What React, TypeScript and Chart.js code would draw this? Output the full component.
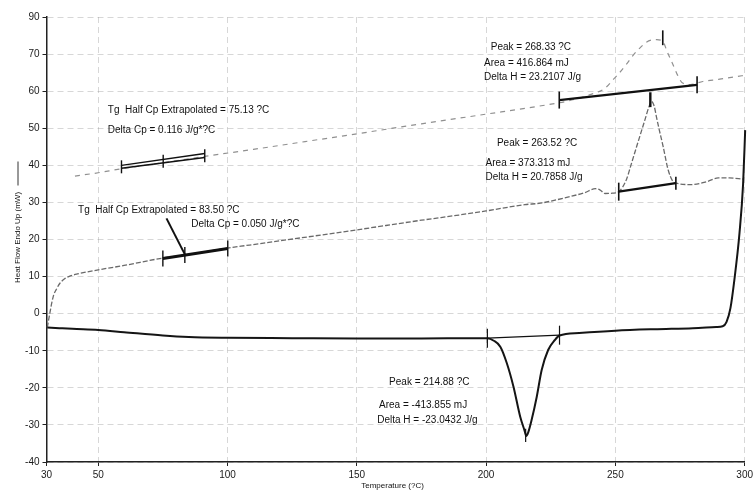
import { useEffect, useRef } from "react";
import { Chart, registerables } from "chart.js";

Chart.register(...registerables);

const FONT = "'Liberation Sans', Arial, sans-serif";

// ---- axes ----
const xTickValues = [30, 50, 100, 150, 200, 250, 300];
const yTickValues = [-40, -30, -20, -10, 0, 10, 20, 30, 40, 50, 60, 70, 80];
const yTickLabels = ["-40", "-30", "-20", "-10", "0", "10", "20", "30", "40", "50", "60", "70", "90"];
const xTitle = "Temperature (?C)";
const yTitle = "Heat Flow Endo Up (mW)";

// ---- solid curve ----
const solidTemps = [30.3, 35, 40, 50, 60, 75, 85, 100, 125, 150, 175, 195, 200.5, 203, 205.5, 208, 210.6, 213.2, 215, 215.5, 216.3, 217.6, 219.6, 221.5, 224, 226.6, 228.4, 236, 250, 265, 280, 289, 291.5, 293, 294.5, 296, 298, 299.4, 300.2];
const solidValues = [-3.7, -3.9, -4.1, -4.4, -5.0, -5.9, -6.3, -6.5, -6.6, -6.7, -6.7, -6.6, -6.6, -7.3, -8.9, -13.3, -19.7, -27.8, -31.8, -33.0, -32.0, -28.7, -22.4, -15.2, -9.8, -7.1, -5.9, -5.2, -4.6, -4.2, -3.9, -3.6, -3.4, -2.2, 1.5, 9, 21.7, 35, 49.5];

// ---- middle (dotted) curve ----
const midTemps = [30.3, 32.6, 34, 35.2, 37, 38.6, 42, 50, 60, 75, 83.5, 100, 108.5, 131, 150, 175, 189.5, 200, 215, 221, 232, 238, 242.3, 244, 246, 248.9, 251.3, 254.3, 256, 258.2, 261.4, 263, 264, 265, 265.9, 267, 268.5, 270.4, 272.3, 273.5, 279, 285.4, 289.8, 294, 299.5];
const midValues = [-3.7, 4.6, 6.8, 8.2, 9.4, 10.0, 10.7, 11.8, 13.0, 15.0, 15.8, 17.7, 18.5, 20.7, 22.6, 25.2, 26.6, 27.7, 29.4, 29.8, 31.5, 32.6, 33.7, 33.4, 32.4, 32.5, 32.9, 36.2, 40, 45, 52.2, 55.8, 57.2, 56, 53, 49.5, 45, 38.8, 35.6, 35.2, 34.8, 35.6, 36.6, 36.6, 36.3];

// ---- top (dashed) curve ----
const topTemps = [41, 50, 58.4, 75, 91, 110, 130, 150, 175, 200, 223.4, 232, 240, 246, 249, 251, 254, 257, 260, 262, 264, 266, 268.3, 270, 272, 274, 276, 279, 283.8, 290, 296.7, 300];
const topValues = [37.1, 38.0, 39.0, 40.7, 42.4, 44.3, 46.4, 48.5, 51.2, 53.8, 56.3, 57.4, 59.0, 60.8, 63.0, 64.5, 67.0, 69.8, 72.0, 73.2, 73.8, 73.9, 73.5, 70.7, 67.6, 64.4, 62.2, 61.8, 62.6, 63.2, 63.9, 64.3];

// ---- analysis marks (temperature, value) ----
const tgTopUpper = [[59.0, 40.0], [91.2, 43.2]];
const tgTopLower = [[59.0, 39.2], [91.2, 42.1]];
const tgTopTicks = [[59.0, 39.6], [75.13, 41.1], [91.2, 42.6]];
const tgMidLine = [[75.0, 14.9], [100.1, 17.6]];
const tgMidTicks = [[75.0, 14.9], [83.5, 15.8], [100.1, 17.6]];
const tgMidArrow = [[76.4, 25.7], [83.5, 16.0]];
const topPeakBase = [[228.3, 57.6], [281.6, 61.7]];
const topPeakMarker = [[268.33, 76.4], [268.33, 72.4]];
const midPeakMarker = [[263.52, 59.7], [263.52, 55.7]];
const midPeakBase = [[251.3, 32.9], [273.4, 35.2]];
const botBase = [[200.5, -6.6], [228.4, -5.8]];
const botPeakMarker = [[215.3, -31.0], [215.3, -34.6]];

// ---- annotation texts and anchors (temperature, value) ----
const noteTexts = [
  "Tg  Half Cp Extrapolated = 75.13 ?C",
  "Delta Cp = 0.116 J/g*?C",
  "Tg  Half Cp Extrapolated = 83.50 ?C",
  "Delta Cp = 0.050 J/g*?C",
  "Peak = 268.33 ?C",
  "Area = 416.864 mJ",
  "Delta H = 23.2107 J/g",
  "Peak = 263.52 ?C",
  "Area = 373.313 mJ",
  "Delta H = 20.7858 J/g",
  "Peak = 214.88 ?C",
  "Area = -413.855 mJ",
  "Delta H = -23.0432 J/g",
];
const noteAnchors = [
  [53.7, 54.9],
  [53.7, 49.5],
  [42.2, 27.9],
  [86.0, 24.1],
  [201.8, 71.9],
  [199.2, 67.4],
  [199.2, 63.7],
  [204.2, 45.9],
  [199.8, 40.5],
  [199.8, 36.9],
  [162.5, -18.4],
  [158.6, -24.6],
  [157.9, -28.7],
];

const zip = (a: number[], b: number[]) => a.map((v, i) => ({ x: v, y: b[i] }));

const marksPlugin = {
  id: "dscMarks",
  afterDatasetsDraw(chart: any) {
    const { ctx, chartArea } = chart;
    const sx = chart.scales.x;
    const sy = chart.scales.y;
    const P = (p: number[]) => [sx.getPixelForValue(p[0]), sy.getPixelForValue(p[1])];
    ctx.save();
    ctx.lineCap = "butt";
    const seg = (pts: number[][], w: number, color = "#111") => {
      ctx.beginPath();
      ctx.lineWidth = w;
      ctx.strokeStyle = color;
      ctx.setLineDash([]);
      pts.forEach((p, i) => {
        const [a, b] = P(p);
        if (i === 0) ctx.moveTo(a, b);
        else ctx.lineTo(a, b);
      });
      ctx.stroke();
    };
    const ticks = (pts: number[][], half: number, w: number) => {
      pts.forEach((p) => {
        const [a, b] = P(p);
        ctx.beginPath();
        ctx.lineWidth = w;
        ctx.strokeStyle = "#111";
        ctx.moveTo(a, b - half);
        ctx.lineTo(a, b + half);
        ctx.stroke();
      });
    };
    seg(tgTopUpper, 1.4);
    seg(tgTopLower, 1.4);
    ticks(tgTopTicks, 6.5, 1.4);
    seg(tgMidLine, 3);
    ticks(tgMidTicks, 8, 1.4);
    seg(tgMidArrow, 2);
    seg(topPeakBase, 2.2);
    ticks([topPeakBase[0], topPeakBase[1]], 8.5, 1.6);
    seg(topPeakMarker, 1.6);
    seg(midPeakMarker, 2.4);
    seg(midPeakBase, 2.4);
    ticks([midPeakBase[0]], 9, 1.6);
    ticks([midPeakBase[1]], 6.5, 1.6);
    seg(botBase, 1.4);
    ticks([botBase[0], botBase[1]], 9.5, 1.2);
    seg(botPeakMarker, 1.2);

    ctx.fillStyle = "#111";
    ctx.font = `10px ${FONT}`;
    ctx.textBaseline = "middle";
    ctx.textAlign = "left";
    noteTexts.forEach((t, i) => {
      const [a, b] = P(noteAnchors[i]);
      ctx.fillText(t, a, b);
    });

    // axis titles
    ctx.font = `8px ${FONT}`;
    ctx.textAlign = "center";
    ctx.fillText(xTitle, (chartArea.left + chartArea.right) / 2 - 3, 486);
    const midY = (chartArea.top + chartArea.bottom) / 2;
    ctx.save();
    ctx.translate(18, midY - 2);
    ctx.rotate(-Math.PI / 2);
    ctx.fillText(yTitle, 0, 0);
    ctx.restore();
    ctx.beginPath();
    ctx.lineWidth = 1;
    ctx.strokeStyle = "#333";
    ctx.moveTo(18, midY - 54);
    ctx.lineTo(18, midY - 78);
    ctx.stroke();
    ctx.restore();
  },
};

export default function App() {
  const ref = useRef<HTMLCanvasElement | null>(null);
  useEffect(() => {
    if (!ref.current) return;
    Chart.defaults.font.family = FONT;
    const gridOpts = {
      color: "rgba(140,140,140,0.35)",
      lineWidth: 1,
      drawTicks: true,
      tickLength: 4,
      tickColor: "#222",
      tickWidth: 1,
    };
    const chart = new Chart(ref.current, {
      type: "line",
      data: {
        datasets: [
          {
            label: "solid",
            data: zip(solidTemps, solidValues),
            borderColor: "#151515",
            borderWidth: 2,
            pointRadius: 0,
            cubicInterpolationMode: "monotone",
            clip: 6,
          },
          {
            label: "dotted",
            data: zip(midTemps, midValues),
            borderColor: "#6a6a6a",
            borderWidth: 1.3,
            borderDash: [5, 2],
            pointRadius: 0,
            cubicInterpolationMode: "monotone",
            clip: 6,
          },
          {
            label: "dashed",
            data: zip(topTemps, topValues),
            borderColor: "#909090",
            borderWidth: 1.2,
            borderDash: [5, 5],
            pointRadius: 0,
            cubicInterpolationMode: "monotone",
            clip: 6,
          },
        ],
      },
      options: {
        responsive: false,
        animation: false,
        layout: { padding: { top: 17, right: 9.7, left: 0, bottom: 0 } },
        plugins: { legend: { display: false }, tooltip: { enabled: false }, title: { display: false } },
        scales: {
          x: {
            type: "linear",
            min: 30,
            max: 300,
            afterBuildTicks: (s: any) => {
              s.ticks = xTickValues.map((v) => ({ value: v }));
            },
            afterFit: (s: any) => {
              s.height = 31;
            },
            grid: gridOpts,
            border: { display: true, color: "#222", width: 1.5, dash: [6, 4] },
            ticks: {
              color: "#1a1a1a",
              font: { size: 10, family: FONT },
              padding: 3,
              maxRotation: 0,
              autoSkip: false,
              callback: (v: any) => String(v),
            },
          },
          y: {
            type: "linear",
            min: -40,
            max: 80,
            afterBuildTicks: (s: any) => {
              s.ticks = yTickValues.map((v) => ({ value: v }));
            },
            afterFit: (s: any) => {
              s.width = 46.5;
            },
            grid: gridOpts,
            border: { display: true, color: "#222", width: 1.5, dash: [6, 4] },
            ticks: {
              color: "#1a1a1a",
              font: { size: 10, family: FONT },
              padding: 3,
              autoSkip: false,
              callback: (v: any) => {
                const i = yTickValues.indexOf(Number(v));
                return i >= 0 ? yTickLabels[i] : "";
              },
            },
          },
        },
      },
      plugins: [marksPlugin],
    } as any);
    return () => chart.destroy();
  }, []);
  return (
    <div style={{ position: "fixed", left: 0, top: 0, width: 756, height: 493, background: "#fff" }}>
      <canvas ref={ref} width={756} height={493} style={{ display: "block" }} />
    </div>
  );
}
